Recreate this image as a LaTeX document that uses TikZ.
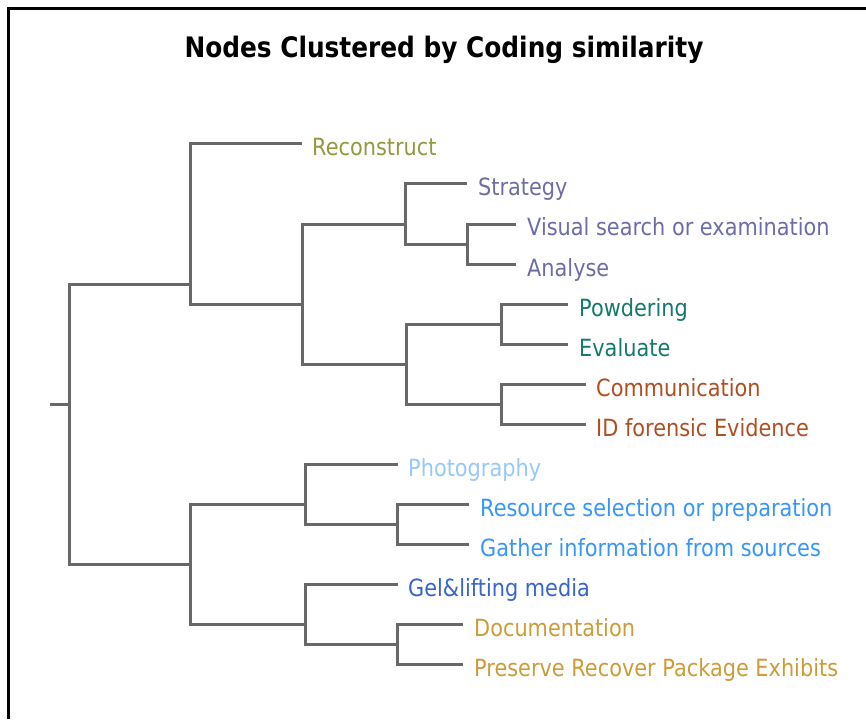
\documentclass[tikz,border=0pt]{standalone}
\usepackage{fontspec}
\setmainfont{DejaVu Sans}[FakeStretch=0.88]
\definecolor{cOlive}{RGB}{150,152,62}
\definecolor{cSlate}{RGB}{108,108,168}
\definecolor{cTeal}{RGB}{20,120,110}
\definecolor{cRust}{RGB}{176,78,34}
\definecolor{cSky}{RGB}{150,200,250}
\definecolor{cAzure}{RGB}{55,150,250}
\definecolor{cRoyal}{RGB}{55,100,205}
\definecolor{cGold}{RGB}{205,155,55}
\definecolor{cBranch}{RGB}{104,104,104}
\begin{document}
\begin{tikzpicture}[x=1pt,y=-1pt,
  leaf/.style={anchor=west,inner sep=0pt,text height=24pt,text depth=0pt,
    font=\fontsize{23.7}{26}\selectfont},
  branch/.style={draw=cBranch,line width=3pt,line join=miter}]
\useasboundingbox (0,0) rectangle (866,719);
% frame
\draw[line width=3pt,black] (8.5,719) -- (8.5,8.5) -- (866,8.5);
% title
\node[anchor=base,inner sep=0pt,font=\fontsize{28.2}{32}\selectfont\bfseries] (title) at (444,58) {Nodes Clustered by Coding similarity};
% leaves
\node[leaf,text=cOlive] (rec) at (312,144) {Reconstruct};
\node[leaf,text=cSlate] (str) at (478,184) {Strategy};
\node[leaf,text=cSlate] (vis) at (527,224) {Visual search or examination};
\node[leaf,text=cSlate] (ana) at (527,264) {Analyse};
\node[leaf,text=cTeal] (pow) at (579,304) {Powdering};
\node[leaf,text=cTeal] (eva) at (579,344) {Evaluate};
\node[leaf,text=cRust] (com) at (596,384) {Communication};
\node[leaf,text=cRust] (idf) at (596,424) {ID forensic Evidence};
\node[leaf,text=cSky] (pho) at (408,464) {Photography};
\node[leaf,text=cAzure] (res) at (480,504) {Resource selection or preparation};
\node[leaf,text=cAzure] (gat) at (480,544) {Gather information from sources};
\node[leaf,text=cRoyal] (gel) at (408,584) {Gel\&lifting media};
\node[leaf,text=cGold] (doc) at (474,624) {Documentation};
\node[leaf,text=cGold] (pre) at (474,664) {Preserve Recover Package Exhibits};
% joins
\coordinate (jVA) at (467,244);
\coordinate (jSVA) at (405,224);
\coordinate (jPE) at (501,324);
\coordinate (jCI) at (501,404);
\coordinate (jPECI) at (406,364);
\coordinate (jmid) at (302,304);
\coordinate (jtop) at (190,284);
\coordinate (jRG) at (397,524);
\coordinate (jPRG) at (305,504);
\coordinate (jDP) at (397,644);
\coordinate (jGDP) at (305,624);
\coordinate (jbot) at (190,564);
\coordinate (root) at (69,404);
\coordinate (stub) at (50,404);
% branches
\draw[branch] (jVA) |- ([xshift=-11pt]vis.west);
\draw[branch] (jVA) |- ([xshift=-11pt]ana.west);
\draw[branch] (jSVA) |- ([xshift=-11pt]str.west);
\draw[branch] (jSVA) |- (jVA);
\draw[branch] (jPE) |- ([xshift=-11pt]pow.west);
\draw[branch] (jPE) |- ([xshift=-11pt]eva.west);
\draw[branch] (jCI) |- ([xshift=-10pt]com.west);
\draw[branch] (jCI) |- ([xshift=-10pt]idf.west);
\draw[branch] (jPECI) |- (jPE);
\draw[branch] (jPECI) |- (jCI);
\draw[branch] (jmid) |- (jSVA);
\draw[branch] (jmid) |- (jPECI);
\draw[branch] (jtop) |- ([xshift=-10pt]rec.west);
\draw[branch] (jtop) |- (jmid);
\draw[branch] (jRG) |- ([xshift=-11pt]res.west);
\draw[branch] (jRG) |- ([xshift=-11pt]gat.west);
\draw[branch] (jPRG) |- ([xshift=-10pt]pho.west);
\draw[branch] (jPRG) |- (jRG);
\draw[branch] (jDP) |- ([xshift=-11pt]doc.west);
\draw[branch] (jDP) |- ([xshift=-11pt]pre.west);
\draw[branch] (jGDP) |- ([xshift=-10pt]gel.west);
\draw[branch] (jGDP) |- (jDP);
\draw[branch] (jbot) |- (jPRG);
\draw[branch] (jbot) |- (jGDP);
\draw[branch] (root) |- (jtop);
\draw[branch] (root) |- (jbot);
\draw[branch] (stub) -- (root);
\end{tikzpicture}
\end{document}
